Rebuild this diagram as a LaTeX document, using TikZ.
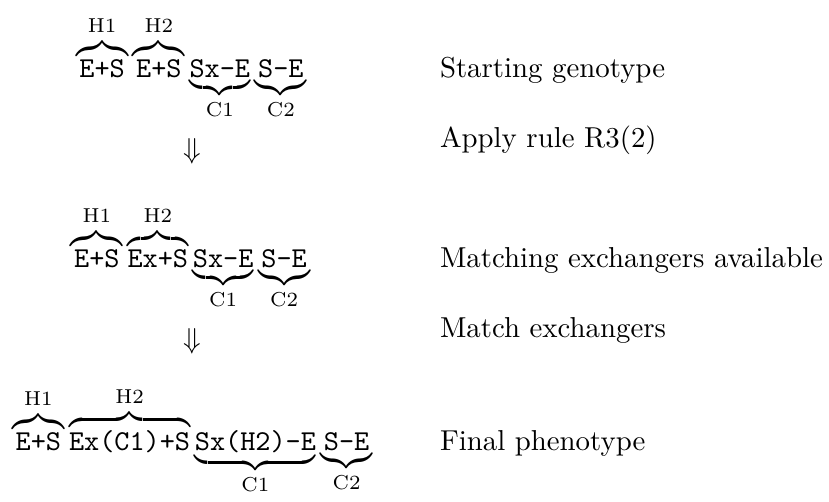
\documentclass[tikz,border=0pt]{standalone}
\newcommand{\hb}[2]{\overbrace{\texttt{#1}}^{\mathrm{#2}}}
\newcommand{\cb}[2]{\underbrace{\texttt{#1}}_{\mathrm{#2}}}
\begin{document}
\begin{tikzpicture}[x=0.347pt, y=-0.347pt,
  every node/.style={inner sep=0pt, outer sep=0pt},
  genome/.style={anchor=base},
  note/.style={anchor=base west},
  arrowmark/.style={anchor=center}]
\useasboundingbox (0,0) rectangle (829,501);
% row 1
\node[genome] (g1) at (191.5,77) {$\hb{E+S}{H1}\hb{E+S}{H2}\cb{Sx-E}{C1}\cb{S-E}{C2}$};
\node[note] (t1) at (440,77) {Starting genotype};
% arrow 1
\node[arrowmark] (d1) at (192,151) {$\Downarrow$};
\node[note] (t2) at (440,147) {Apply rule R3(2)};
% row 2
\node[genome] (g2) at (190.5,267) {$\hb{E+S}{H1}\hb{Ex+S}{H2}\cb{Sx-E}{C1}\cb{S-E}{C2}$};
\node[note] (t3) at (440,267) {Matching exchangers available};
% arrow 2
\node[arrowmark] (d2) at (192,341) {$\Downarrow$};
\node[note] (t4) at (440,337) {Match exchangers};
% row 3
\node[genome] (g3) at (192.5,450) {$\hb{E+S}{H1}\hb{Ex(C1)+S}{H2}\cb{Sx(H2)-E}{C1}\cb{S-E}{C2}$};
\node[note] (t5) at (440,450) {Final phenotype};
\end{tikzpicture}
\end{document}
